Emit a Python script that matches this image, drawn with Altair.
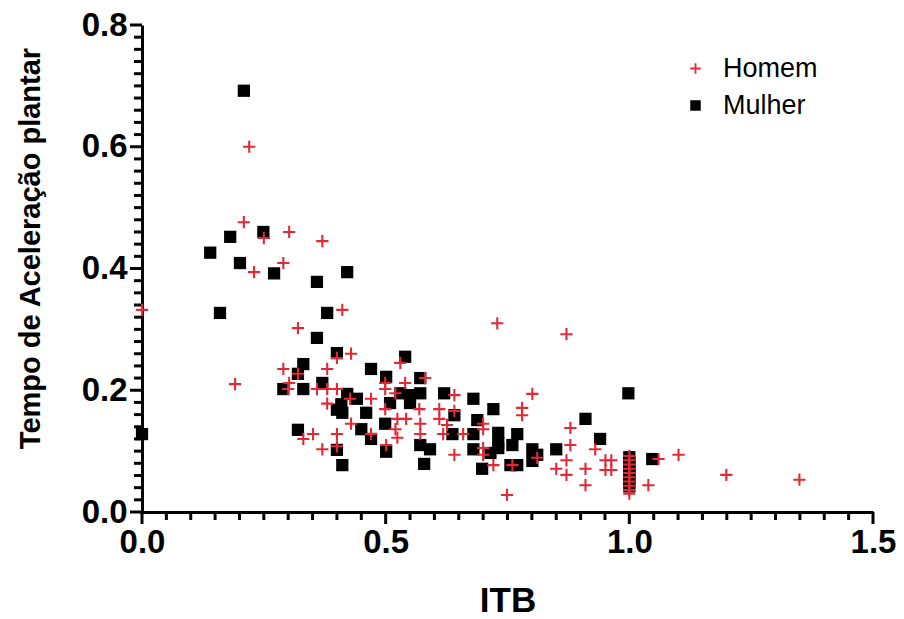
import altair as alt
import pandas as pd

# Homem (+)
homem_itb = [0.0, 0.220, 0.209, 0.250, 0.302, 0.370, 0.290, 0.230, 0.411, 0.320,
             0.400, 0.429, 0.290, 0.380, 0.320, 0.302, 0.300, 0.191, 0.359, 0.380,
             0.400, 0.427, 0.470, 0.380, 0.351, 0.331, 0.370, 0.400, 0.400, 0.429,
             0.470, 0.530, 0.499, 0.499, 0.581, 0.540, 0.520, 0.641, 0.499, 0.569,
             0.610, 0.641, 0.610, 0.524, 0.542, 0.571, 0.520, 0.626, 0.700, 0.618,
             0.659, 0.571, 0.524, 0.501, 0.641, 0.700, 0.700, 0.700, 0.729, 0.871,
             0.801, 0.780, 0.780, 0.721, 0.760, 0.749, 0.811, 0.850, 0.871, 0.871,
             0.879, 0.879, 0.910, 0.910, 0.930, 0.951, 0.963, 0.951, 0.963,
             1.0, 1.0, 1.0, 1.0, 1.0, 1.0, 1.0, 1.0, 1.0, 1.0,
             1.060, 1.101, 1.039, 1.199, 1.349]
homem_tap = [0.332, 0.600, 0.476, 0.450, 0.460, 0.445, 0.409, 0.394, 0.332, 0.302,
             0.253, 0.260, 0.235, 0.235, 0.227, 0.212, 0.202, 0.210, 0.202, 0.202,
             0.202, 0.186, 0.186, 0.178, 0.128, 0.120, 0.103, 0.128, 0.108, 0.145,
             0.128, 0.245, 0.212, 0.202, 0.220, 0.212, 0.195, 0.192, 0.169, 0.169,
             0.169, 0.166, 0.153, 0.153, 0.153, 0.145, 0.136, 0.143, 0.136, 0.128,
             0.128, 0.128, 0.122, 0.110, 0.094, 0.145, 0.105, 0.094, 0.310, 0.292,
             0.194, 0.171, 0.159, 0.077, 0.077, 0.028, 0.089, 0.071, 0.085, 0.061,
             0.138, 0.110, 0.071, 0.044, 0.103, 0.085, 0.085, 0.069, 0.069,
             0.092, 0.085, 0.078, 0.071, 0.064, 0.057, 0.050, 0.043, 0.036, 0.030,
             0.087, 0.094, 0.044, 0.061, 0.053]

# Mulher (square)
mulher_itb = [0.209, 0.249, 0.181, 0.140, 0.201, 0.271, 0.421, 0.359, 0.160, 0.380,
              0.359, 0.400, 0.470, 0.331, 0.320, 0.290, 0.331, 0.370, 0.421, 0.441,
              0.409, 0.400, 0.411, 0.460, 0.0, 0.320, 0.400, 0.411, 0.450, 0.470,
              0.540, 0.501, 0.571, 0.530, 0.550, 0.550, 0.571, 0.620, 0.680, 0.509,
              0.641, 0.499, 0.688, 0.637, 0.680, 0.501, 0.571, 0.591, 0.680, 0.579,
              0.698, 0.721, 0.731, 0.770, 0.760, 0.731, 0.731, 0.715, 0.801, 0.811,
              0.850, 0.801, 0.756, 0.770, 0.910, 0.940, 0.998,
              1.0, 1.0, 1.0, 1.0, 1.0, 1.0, 1.0, 1.047]
mulher_tap = [0.692, 0.460, 0.452, 0.426, 0.409, 0.392, 0.394, 0.378, 0.327, 0.327,
              0.286, 0.261, 0.235, 0.243, 0.227, 0.202, 0.202, 0.212, 0.194, 0.186,
              0.177, 0.168, 0.163, 0.163, 0.128, 0.135, 0.102, 0.077, 0.136, 0.120,
              0.255, 0.222, 0.220, 0.195, 0.192, 0.179, 0.195, 0.195, 0.186, 0.179,
              0.159, 0.145, 0.151, 0.128, 0.128, 0.099, 0.110, 0.103, 0.103, 0.079,
              0.071, 0.169, 0.130, 0.128, 0.110, 0.113, 0.105, 0.097, 0.103, 0.094,
              0.103, 0.084, 0.077, 0.077, 0.153, 0.120, 0.195,
              0.090, 0.082, 0.074, 0.066, 0.058, 0.050, 0.042, 0.087]

series = ["Homem", "Mulher"]
colors = ["#E22A36", "#000000"]
plus_path = "M-1,-0.17H-0.17V-1H0.17V-0.17H1V0.17H0.17V1H-0.17V0.17H-1Z"
shapes = [plus_path, "square"]

x_major = [0.0, 0.5, 1.0, 1.5]
y_major = [0.0, 0.2, 0.4, 0.6, 0.8]
x_minor = [round(i * 0.05, 2) for i in range(31) if i % 10 != 0]
y_minor = [round(i * 0.02, 2) for i in range(41) if i % 10 != 0]

df = pd.concat([
    pd.DataFrame({"ITB": mulher_itb, "TAP": mulher_tap, "Sexo": "Mulher"}),
    pd.DataFrame({"ITB": homem_itb, "TAP": homem_tap, "Sexo": "Homem"}),
], ignore_index=True)

FONT = "Liberation Sans"
W, H = 731, 487
MAJOR, MINOR = 12, 8

x_scale = alt.Scale(domain=[0, 1.5], nice=False, zero=False)
y_scale = alt.Scale(domain=[0, 0.8], nice=False)

x_axis = alt.Axis(
    values=x_major, format=".1f", ticks=False,
    labelOverlap=False, labelFlush=False, labelPadding=MAJOR + 2,
    title="ITB", titleFontSize=35, titleY=99, titleBaseline="alphabetic",
)
y_axis = alt.Axis(
    values=y_major, format=".1f", ticks=False,
    labelOverlap=False, labelFlush=False, labelPadding=MAJOR + 3,
    title="Tempo de Aceleração plantar", titleFontSize=29,
    titleAngle=270, titleAlign="center", titleBaseline="middle",
    titleX=-112, titleY=223,
)

points = alt.Chart(df).mark_point(filled=True, size=150, opacity=1, strokeWidth=0).encode(
    x=alt.X("ITB:Q", scale=x_scale, axis=x_axis),
    y=alt.Y("TAP:Q", scale=y_scale, axis=y_axis),
    color=alt.Color("Sexo:N", scale=alt.Scale(domain=series, range=colors),
                    legend=alt.Legend(title=None, orient="none", legendX=540, legendY=30,
                                      labelFontSize=27, labelFont=FONT, labelColor="black",
                                      symbolSize=110, symbolStrokeWidth=0, symbolOpacity=1,
                                      rowPadding=9, labelOffset=14)),
    shape=alt.Shape("Sexo:N", scale=alt.Scale(domain=series, range=shapes)),
    order=alt.Order("sortkey:Q"),
).transform_calculate(
    sortkey="datum.Sexo == 'Mulher' ? 0 : 1"
)


def xticks(vals, length):
    return alt.Chart(pd.DataFrame({"ITB": vals})).mark_tick(
        color="black", opacity=1, orient="vertical", thickness=3, size=length, clip=False
    ).encode(
        x=alt.X("ITB:Q", scale=x_scale),
        y=alt.value(H + length / 2),
    )


def yticks(vals, length):
    return alt.Chart(pd.DataFrame({"TAP": vals})).mark_tick(
        color="black", opacity=1, orient="horizontal", thickness=3, size=length, clip=False
    ).encode(
        y=alt.Y("TAP:Q", scale=y_scale),
        x=alt.value(-length / 2),
    )


chart = alt.layer(
    xticks(x_minor, MINOR), xticks(x_major, MAJOR),
    yticks(y_minor, MINOR), yticks(y_major, MAJOR),
    points,
).properties(
    width=W, height=H,
    autosize=alt.AutoSizeParams(type="none"),
    padding={"left": 142, "top": 25, "right": 31, "bottom": 107},
    background="white",
).configure_axis(
    domainColor="black", domainWidth=3,
    labelFont=FONT, labelFontWeight="bold", labelFontSize=33, labelColor="black",
    titleFont=FONT, titleFontWeight="bold", titleColor="black", grid=False,
).configure_view(stroke=None)

chart.save("out.html", embed_options={"renderer": "svg", "actions": False})
